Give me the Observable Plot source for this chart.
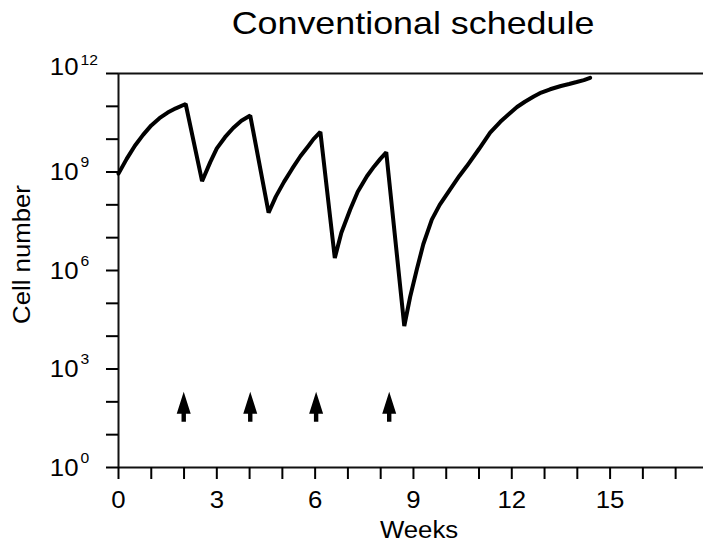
<!DOCTYPE html>
<html>
<head>
<meta charset="utf-8">
<script src="https://cdn.jsdelivr.net/npm/d3@7"></script>
<script src="https://cdn.jsdelivr.net/npm/@observablehq/plot@0.6"></script>
<style>
  html, body { margin: 0; padding: 0; background: #fff; overflow: hidden; }
</style>
</head>
<body>
<script>
// ---- Data ----
const titleText = "Conventional schedule";
const xLabelText = "Weeks";
const yLabelText = "Cell number";

// time (weeks) and log10(cell number)
const weeks = [
  0, 0.25, 0.5, 0.75, 1.0, 1.25, 1.5, 1.75, 2.05,
  2.55, 2.8, 3.0, 3.25, 3.5, 3.75, 4.02,
  4.58, 4.8, 5.05, 5.3, 5.55, 5.8, 5.95, 6.16,
  6.6, 6.8, 7.07, 7.3, 7.58, 7.8, 7.99, 8.17,
  8.72, 8.9, 9.1, 9.3, 9.56, 9.8, 10.12, 10.4, 10.63, 11.0, 11.34, 11.65, 11.95, 12.16,
  12.4, 12.67, 12.9, 13.17, 13.5, 13.75, 13.98, 14.2, 14.39
];
const cellLog = [
  8.95, 9.4, 9.8, 10.13, 10.42, 10.64, 10.81, 10.94, 11.07,
  8.72, 9.3, 9.72, 10.06, 10.34, 10.56, 10.72,
  7.76, 8.25, 8.7, 9.1, 9.48, 9.8, 10.0, 10.22,
  6.38, 7.15, 7.86, 8.4, 8.87, 9.17, 9.4, 9.6,
  4.31, 5.2, 6.02, 6.8, 7.55, 8.0, 8.47, 8.88, 9.18, 9.7, 10.2, 10.53, 10.8, 10.98,
  11.14, 11.3, 11.42, 11.52, 11.62, 11.68, 11.74, 11.8, 11.87
];

// treatment arrows (weeks) and their vertical centre (log10)
const arrowWeeks = [1.99, 4.02, 6.03, 8.26];
const arrowLog = 1.85;

// axes
const xMinorTicks = [0, 1, 2, 3, 4, 5, 6, 7, 8, 9, 10, 11, 12, 13, 14, 15, 16, 17];
const xTickLabels = [0, 3, 6, 9, 12, 15];
const yDecades = [0, 1, 2, 3, 4, 5, 6, 7, 8, 9, 10, 11, 12];
const yExponents = [0, 3, 6, 9, 12];

// ---- Build ----
const series = weeks.map((w, i) => ({week: w, cells: Math.pow(10, cellLog[i])}));
const arrows = arrowWeeks.map(w => ({week: w, cells: Math.pow(10, arrowLog)}));

const arrowSymbol = {
  draw(context) {
    const half = 15, headH = 22, headW = 7, shaftW = 2.2;
    const neck = -half + headH;
    context.moveTo(-shaftW, half);
    context.lineTo(-shaftW, neck);
    context.lineTo(-headW, neck);
    context.lineTo(0, -half);
    context.lineTo(headW, neck);
    context.lineTo(shaftW, neck);
    context.lineTo(shaftW, half);
    context.closePath();
  }
};

const FONT = "'Liberation Sans', Arial, Helvetica, sans-serif";

const chart = Plot.plot({
  width: 703,
  height: 543,
  marginLeft: 118,
  marginRight: 0,
  marginTop: 73,
  marginBottom: 76,
  style: {fontFamily: FONT, background: "#fff", color: "#000"},
  x: {domain: [0, 17.85]},
  y: {type: "log", domain: [1, 1e12]},
  marks: [
    // frame lines
    Plot.ruleY([1e12], {stroke: "#111", strokeWidth: 2}),
    Plot.ruleY([1], {stroke: "#111", strokeWidth: 2}),
    Plot.ruleX([0], {stroke: "#111", strokeWidth: 2}),
    // ticks
    Plot.axisX({ticks: xMinorTicks, tickSize: 12, tickFormat: () => "", strokeWidth: 2, label: null}),
    Plot.axisX({ticks: xTickLabels, tickSize: 0, tickPadding: 24, fontSize: 23, label: null}),
    Plot.axisY({ticks: yDecades.map(e => Math.pow(10, e)), tickSize: 12, tickFormat: () => "", strokeWidth: 2, label: null}),
    // y tick labels 10^n
    Plot.text(yExponents.filter(e => e !== 12), {
      y: e => Math.pow(10, e), text: () => "10", frameAnchor: "left",
      textAnchor: "end", lineAnchor: "middle", dx: -40, dy: 1, fontSize: 23
    }),
    Plot.text(yExponents.filter(e => e !== 12), {
      y: e => Math.pow(10, e), text: e => String(e), frameAnchor: "left",
      textAnchor: "start", lineAnchor: "middle", dx: -38, dy: -9, fontSize: 14
    }),
    Plot.text(yExponents.filter(e => e === 12), {
      y: e => Math.pow(10, e), text: () => "10", frameAnchor: "left",
      textAnchor: "end", lineAnchor: "middle", dx: -40, dy: -6, fontSize: 23
    }),
    Plot.text(yExponents.filter(e => e === 12), {
      y: e => Math.pow(10, e), text: e => String(e), frameAnchor: "left",
      textAnchor: "start", lineAnchor: "middle", dx: -38, dy: -13, fontSize: 14
    }),
    // data curve
    Plot.line(series, {x: "week", y: "cells", stroke: "#000", strokeWidth: 4, strokeLinejoin: "miter"}),
    // treatment arrows
    Plot.dot(arrows, {x: "week", y: "cells", symbol: arrowSymbol, r: 10, fill: "#000", stroke: "none"}),
    // title and axis labels
    Plot.text([titleText], {text: d => d, frameAnchor: "top", textAnchor: "middle", lineAnchor: "bottom", dx: 2, dy: -40, fontSize: 32}),
    Plot.text([xLabelText], {text: d => d, frameAnchor: "bottom", textAnchor: "middle", lineAnchor: "bottom", dx: 8, dy: 70, fontSize: 23}),
    Plot.text([yLabelText], {text: d => d, frameAnchor: "left", textAnchor: "middle", rotate: -90, lineAnchor: "middle", dx: -96, dy: -16, fontSize: 23})
  ]
});

document.body.appendChild(chart);

// widen glyphs slightly along the baseline, as in the reference typeface
const K = 1.12;
chart.querySelectorAll("text").forEach(t => {
  if (!t.textContent) return;
  const len = t.getComputedTextLength();
  if (len > 0) {
    t.setAttribute("textLength", (len * K).toFixed(2));
    t.setAttribute("lengthAdjust", "spacingAndGlyphs");
  }
});
</script>
</body>
</html>
